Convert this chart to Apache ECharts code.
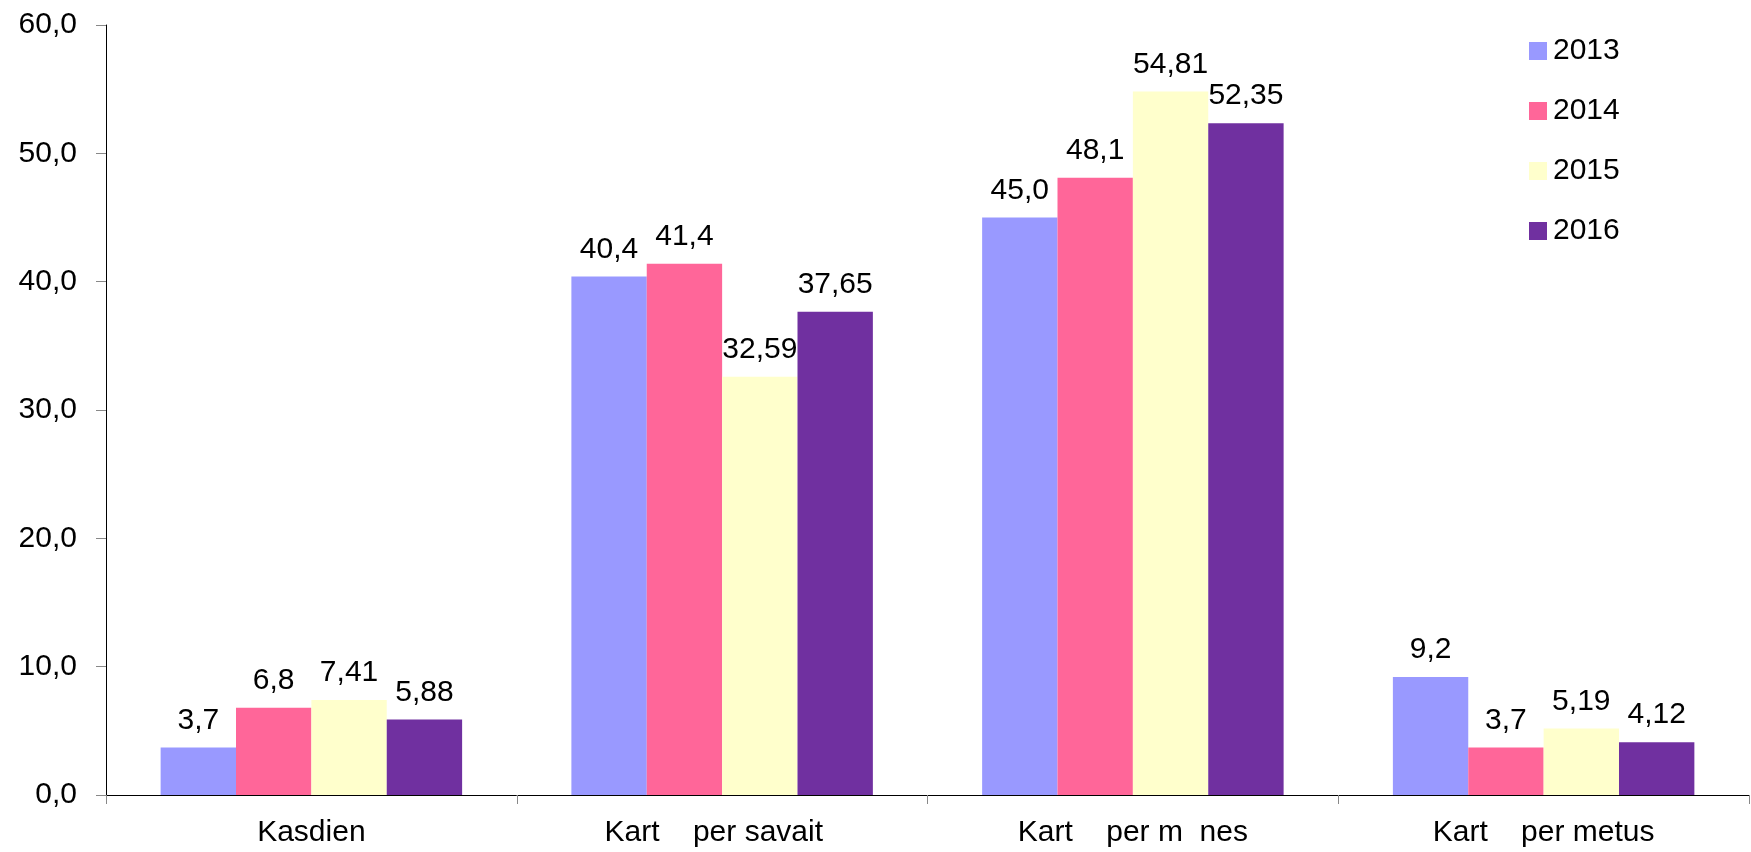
<!DOCTYPE html>
<html>
<head>
<meta charset="utf-8">
<script src="https://cdn.jsdelivr.net/npm/echarts@6/dist/echarts.min.js"></script>
<style>
html,body{margin:0;padding:0;background:#fff;}
#chart{width:1751px;height:852px;}
</style>
</head>
<body>
<div id="chart"></div>
<script>
const categories = ['Kasdien', 'Kart    per savait  ', 'Kart    per m  nes', 'Kart    per metus'];
const seriesNames = ['2013', '2014', '2015', '2016'];
const values2013 = [3.7, 40.4, 45.0, 9.2];
const values2014 = [6.8, 41.4, 48.1, 3.7];
const values2015 = [7.41, 32.59, 54.81, 5.19];
const values2016 = [5.88, 37.65, 52.35, 4.12];
const labels2013 = ['3,7', '40,4', '45,0', '9,2'];
const labels2014 = ['6,8', '41,4', '48,1', '3,7'];
const labels2015 = ['7,41', '32,59', '54,81', '5,19'];
const labels2016 = ['5,88', '37,65', '52,35', '4,12'];
const yTicks = ['0,0', '10,0', '20,0', '30,0', '40,0', '50,0', '60,0'];

const colors = ['#9999FF', '#FF6699', '#FFFFCC', '#7030A0'];
const allValues = [values2013, values2014, values2015, values2016];
const allLabels = [labels2013, labels2014, labels2015, labels2016];

const chart = echarts.init(document.getElementById('chart'));
const font = 'Arial, "Liberation Sans", sans-serif';

chart.setOption({
  animation: false,
  backgroundColor: '#fff',
  color: colors,
  grid: { left: 106, right: 2, top: 25, bottom: 57, containLabel: false },
  legend: {
    orient: 'vertical',
    left: 1529,
    top: 36,
    padding: 0,
    itemWidth: 18,
    itemHeight: 18,
    itemGap: 30,
    icon: 'rect',
    textStyle: { fontSize: 30, lineHeight: 30, color: '#000', fontFamily: font, padding: [0, 0, 0, 1] },
    data: seriesNames
  },
  xAxis: {
    type: 'category',
    data: categories,
    axisLine: { lineStyle: { color: '#000', width: 1 } },
    axisTick: { show: true, alignWithLabel: false, length: 9, lineStyle: { color: '#888' } },
    axisLabel: {
      fontSize: 30,
      color: '#000',
      margin: 23,
      fontFamily: font
    }
  },
  yAxis: {
    type: 'value',
    min: 0,
    max: 60,
    interval: 10,
    axisLine: { show: true, lineStyle: { color: '#000', width: 1 } },
    axisTick: { show: true, length: 10, lineStyle: { color: '#888' } },
    splitLine: { show: false },
    axisLabel: {
      fontSize: 30,
      color: '#000',
      margin: 29,
      fontFamily: font,
      formatter: function (v) { return yTicks[Math.round(v / 10)]; }
    }
  },
  series: seriesNames.map(function (name, i) {
    return {
      name: name,
      type: 'bar',
      barGap: '0%',
      barCategoryGap: '26.6%',
      data: allValues[i],
      itemStyle: { color: colors[i] },
      label: {
        show: true,
        position: 'top',
        distance: 12,
        fontSize: 30,
        color: '#000',
        fontFamily: font,
        formatter: function (p) { return allLabels[i][p.dataIndex]; }
      }
    };
  })
});
</script>
</body>
</html>
